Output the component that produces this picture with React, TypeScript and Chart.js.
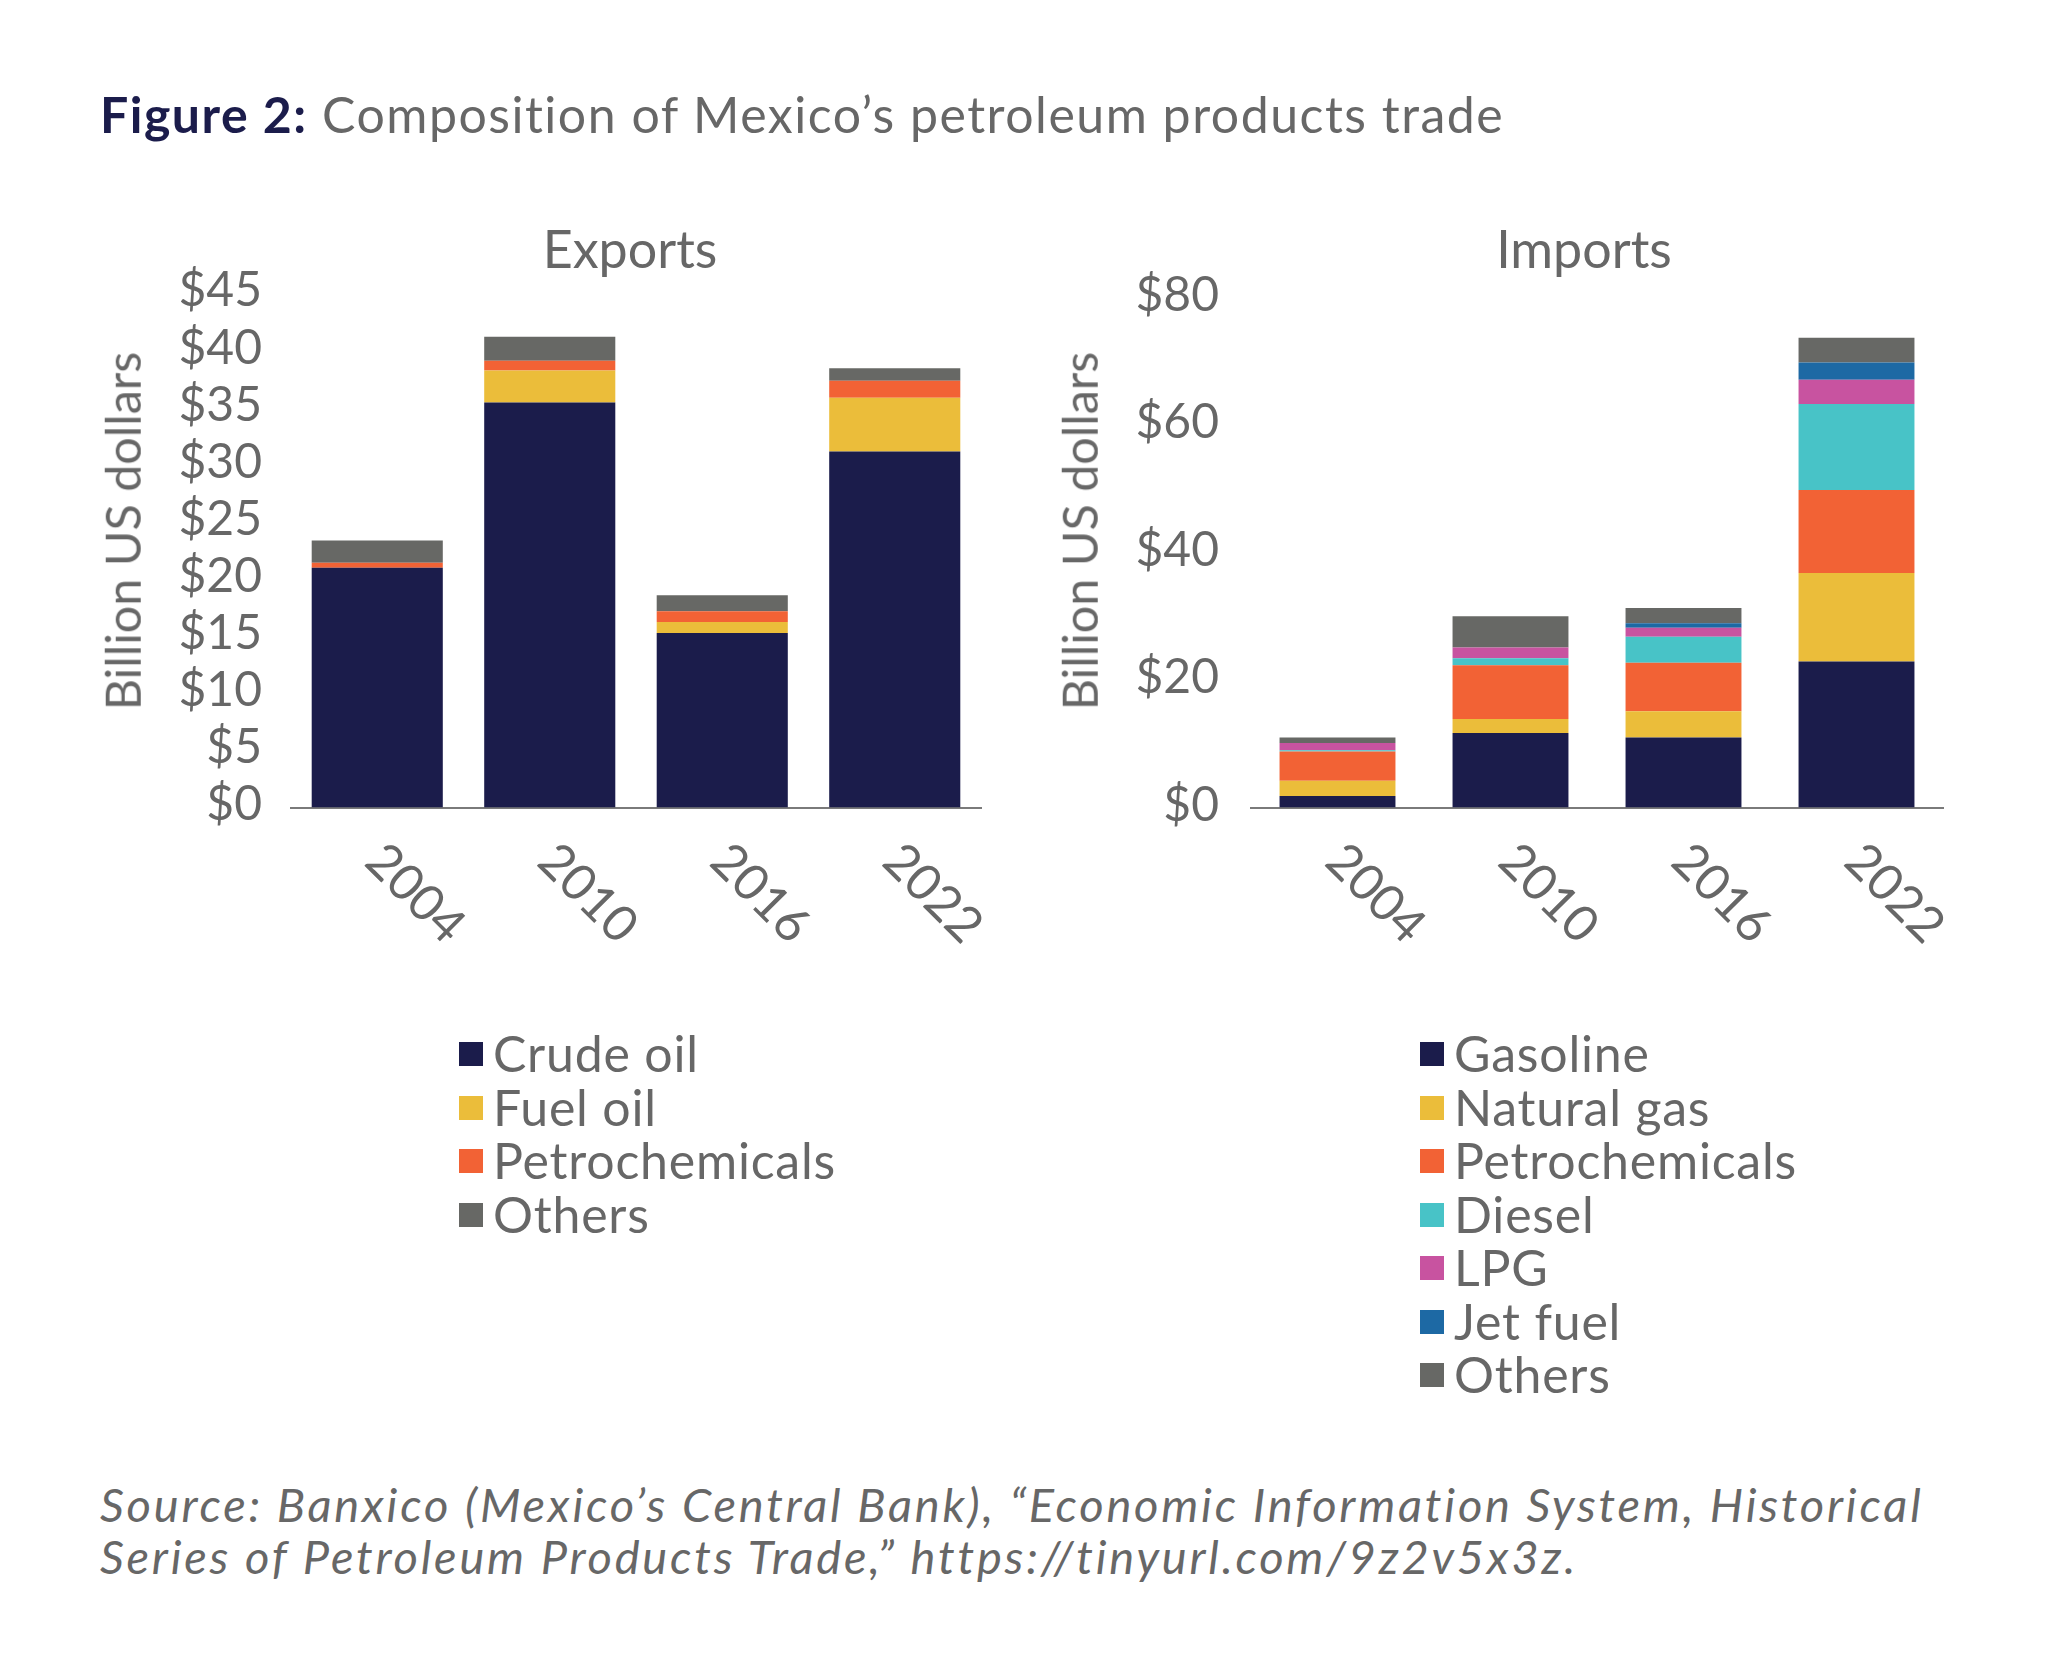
import React, { useEffect, useRef } from "react";
import { Chart, registerables } from "chart.js";

Chart.register(...registerables);

const FONT = "Lato, 'Open Sans', sans-serif";
const TEXT = "#676767";
const NAVY = "#1B1C4B";
const YELLOW = "#EBBD3A";
const ORANGE = "#F26235";
const CYAN = "#48C3C7";
const MAGENTA = "#C853A0";
const BLUE = "#1D69A4";
const GRAY = "#676865";

const years = ["2004", "2010", "2016", "2022"];

const exportNames = ["Crude oil", "Fuel oil", "Petrochemicals", "Others"];
const exportCrude = [21.0, 35.5, 15.3, 31.2];
const exportFuel = [0.0, 2.8, 0.95, 4.7];
const exportPetro = [0.45, 0.85, 0.95, 1.5];
const exportOthers = [1.95, 2.1, 1.4, 1.1];
const exportColors = [NAVY, YELLOW, ORANGE, GRAY];
const exportMax = 45;
const exportStep = 5;

const importNames = ["Gasoline", "Natural gas", "Petrochemicals", "Diesel", "LPG", "Jet fuel", "Others"];
const importGasoline = [1.8, 11.7, 11.0, 22.9];
const importNatGas = [2.4, 2.2, 4.1, 13.9];
const importPetro = [4.6, 8.4, 7.6, 13.0];
const importDiesel = [0.2, 1.1, 4.1, 13.5];
const importLPG = [1.1, 1.7, 1.4, 3.8];
const importJet = [0.0, 0.0, 0.7, 2.7];
const importOthers = [0.9, 4.9, 2.4, 3.9];
const importColors = [NAVY, YELLOW, ORANGE, CYAN, MAGENTA, BLUE, GRAY];
const importMax = 80;
const importStep = 20;

const yTitle = "Billion US dollars";

const rotatedLabels = {
  id: "rotatedLabels",
  afterDraw(chart: any) {
    const xs = chart.scales.x;
    const ctx = chart.ctx;
    ctx.save();
    ctx.font = `50px ${FONT}`;
    ctx.fillStyle = TEXT;
    ctx.textAlign = "left";
    ctx.textBaseline = "middle";
    (chart.data.labels as string[]).forEach((lab, i) => {
      const px = xs.getPixelForValue(i);
      ctx.save();
      ctx.translate(px - 3, xs.top + 45);
      ctx.rotate(Math.PI / 4);
      ctx.fillText(lab, 0, 0);
      ctx.restore();
    });
    ctx.restore();
  },
};

type ChartProps = {
  series: number[][];
  names: string[];
  colors: string[];
  max: number;
  step: number;
  barPct: number;
  left: number;
  top: number;
  width: number;
  height: number;
  padTop: number;
  padRight: number;
  yWidth: number;
  xHeight: number;
  tickPad: number;
  labelOffset: number;
};

function StackedChart(p: ChartProps) {
  const ref = useRef<HTMLCanvasElement>(null);
  useEffect(() => {
    const chart = new Chart(ref.current as HTMLCanvasElement, {
      type: "bar",
      data: {
        labels: years,
        datasets: p.series.map((d, i) => ({
          label: p.names[i],
          data: d,
          backgroundColor: p.colors[i],
          borderWidth: 0,
          barPercentage: p.barPct,
          categoryPercentage: 1,
        })),
      },
      options: {
        responsive: false,
        animation: false,
        devicePixelRatio: 1,
        layout: { padding: { top: p.padTop, right: p.padRight, left: 0, bottom: 0 } },
        plugins: {
          legend: { display: false },
          tooltip: { enabled: false },
        },
        scales: {
          x: {
            stacked: true,
            grid: { display: false, drawTicks: false },
            border: { display: true, color: "#7a7a7a", width: 2 },
            ticks: { display: false },
            afterFit: (s: any) => {
              s.height = p.xHeight;
            },
          },
          y: {
            stacked: true,
            min: 0,
            max: p.max,
            grid: { display: false, drawTicks: false },
            border: { display: false },
            ticks: {
              stepSize: p.step,
              autoSkip: false,
              maxTicksLimit: 20,
              padding: p.tickPad,
              color: TEXT,
              labelOffset: p.labelOffset,
              font: { family: FONT, size: 48, lineHeight: 1 },
              callback: (v: any) => "$" + v,
            },
            title: { display: false },
            afterFit: (s: any) => {
              s.width = p.yWidth;
            },
          },
        },
      } as any,
      plugins: [rotatedLabels],
    });
    return () => chart.destroy();
  }, []);
  return (
    <canvas
      ref={ref}
      width={p.width}
      height={p.height}
      style={{ position: "absolute", left: p.left, top: p.top, width: p.width, height: p.height }}
    />
  );
}

function AxisTitle({ x, y }: { x: number; y: number }) {
  return (
    <div
      style={{
        position: "absolute",
        left: x,
        top: y,
        transform: "translate(-50%,-50%) rotate(-90deg)",
        fontFamily: FONT,
        fontSize: 48.5,
        color: TEXT,
        whiteSpace: "nowrap",
        lineHeight: 1,
      }}
    >
      {yTitle}
    </div>
  );
}

function Legend({ names, colors, left, top }: { names: string[]; colors: string[]; left: number; top: number }) {
  return (
    <div style={{ position: "absolute", left, top }}>
      {names.map((n, i) => (
        <div key={n} style={{ display: "flex", alignItems: "center", height: 53.5 }}>
          <div style={{ width: 24, height: 24, background: colors[i], marginRight: 10 }} />
          <span
            style={{
              fontFamily: FONT,
              fontSize: 50,
              color: TEXT,
              lineHeight: "53.5px",
              whiteSpace: "nowrap",
              letterSpacing: "0.8px",
            }}
          >
            {n}
          </span>
        </div>
      ))}
    </div>
  );
}

export default function App() {
  useEffect(() => {
    document.body.style.margin = "0";
  }, []);
  return (
    <div style={{ position: "absolute", left: 0, top: 0, width: 2048, height: 1670, background: "#ffffff", overflow: "hidden" }}>
      <div
        style={{
          position: "absolute",
          left: 100,
          top: 114,
          transform: "translateY(-50%)",
          fontFamily: FONT,
          fontSize: 50,
          color: TEXT,
          whiteSpace: "nowrap",
          letterSpacing: "1.5px",
        }}
      >
        <span style={{ fontWeight: 700, color: NAVY }}>Figure 2:</span> Composition of Mexico’s petroleum products trade
      </div>

      <div style={{ position: "absolute", left: 630, top: 248, transform: "translate(-50%,-50%)", fontFamily: FONT, fontSize: 52, color: TEXT, whiteSpace: "nowrap" }}>
        Exports
      </div>
      <div style={{ position: "absolute", left: 1584, top: 248, transform: "translate(-50%,-50%)", fontFamily: FONT, fontSize: 52, color: TEXT, whiteSpace: "nowrap" }}>
        Imports
      </div>

      <StackedChart
        series={[exportCrude, exportFuel, exportPetro, exportOthers]}
        names={exportNames}
        colors={exportColors}
        max={exportMax}
        step={exportStep}
        barPct={0.76}
        left={0}
        top={220}
        width={1010}
        height={760}
        padTop={74}
        padRight={29}
        yWidth={291}
        xHeight={172.5}
        tickPad={29}
        labelOffset={-3}
      />
      <StackedChart
        series={[importGasoline, importNatGas, importPetro, importDiesel, importLPG, importJet, importOthers]}
        names={importNames}
        colors={importColors}
        max={importMax}
        step={importStep}
        barPct={0.67}
        left={1000}
        top={220}
        width={1010}
        height={760}
        padTop={77.5}
        padRight={67}
        yWidth={251}
        xHeight={172.5}
        tickPad={32}
        labelOffset={-2}
      />

      <AxisTitle x={122} y={531} />
      <AxisTitle x={1079} y={531} />

      <Legend names={exportNames} colors={exportColors} left={459} top={1054 - 26.75} />
      <Legend names={importNames} colors={importColors} left={1420} top={1054 - 26.75} />

      <div
        style={{
          position: "absolute",
          left: 100,
          top: 1504 - 26,
          fontFamily: FONT,
          fontSize: 47,
          fontStyle: "italic",
          color: TEXT,
          lineHeight: "52px",
          whiteSpace: "nowrap",
          letterSpacing: "2.8px",
        }}
      >
        <div>Source: Banxico (Mexico’s Central Bank), “Economic Information System, Historical</div>
        <div>Series of Petroleum Products Trade,” https://tinyurl.com/9z2v5x3z.</div>
      </div>
    </div>
  );
}
